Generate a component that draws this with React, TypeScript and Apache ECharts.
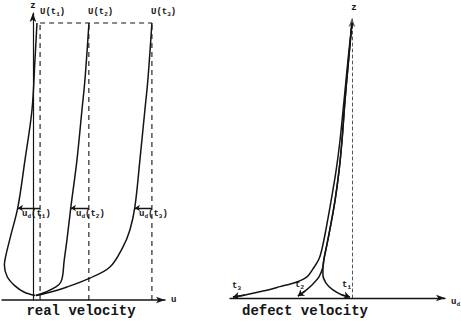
import React, { useEffect, useRef } from "react";
import * as echarts from "echarts";

// free-stream velocities U(t1), U(t2), U(t3) (real-velocity units)
const U_FREE = [0.06, 0.47, 1.0];
const Z_TOP = 1.0;
const UD_LEVEL = 0.332;
// u at the arrow level on each profile (end of u_d arrows)
const UD_END = [-0.126, 0.319, 0.857];

// real velocity profiles [u, z]
const realT1: number[][] = [
  [0.034, 1.0], [0.017, 0.866], [-0.008, 0.686], [-0.067, 0.505], [-0.126, 0.336],
  [-0.185, 0.235], [-0.227, 0.162], [-0.24, 0.126], [-0.215, 0.083], [-0.151, 0.051],
  [-0.076, 0.029], [0.02, 0.016],
];
const realT2: number[][] = [
  [0.471, 1.0], [0.437, 0.794], [0.412, 0.686], [0.37, 0.505], [0.319, 0.336],
  [0.286, 0.217], [0.261, 0.137], [0.252, 0.094], [0.235, 0.065], [0.193, 0.047],
  [0.109, 0.029], [0.025, 0.016],
];
const realT3: number[][] = [
  [1.0, 1.0], [0.966, 0.794], [0.941, 0.686], [0.899, 0.505], [0.857, 0.336],
  [0.815, 0.253], [0.756, 0.191], [0.647, 0.119], [0.479, 0.079], [0.286, 0.047],
  [0.118, 0.025], [0.025, 0.016],
];

// defect velocity profiles [u_d, z]
const defectT3: number[][] = [
  [0, 0.993], [-0.034, 0.856], [-0.067, 0.711], [-0.101, 0.567], [-0.134, 0.458],
  [-0.176, 0.35], [-0.218, 0.249], [-0.252, 0.177], [-0.277, 0.141], [-0.328, 0.105],
  [-0.378, 0.076], [-0.462, 0.058], [-0.605, 0.041], [-0.748, 0.025], [-0.899, 0.011],
  [-1.0, 0.004],
];
const defectT2: number[][] = [
  [0, 0.993], [-0.029, 0.856], [-0.059, 0.711], [-0.084, 0.567], [-0.109, 0.458],
  [-0.143, 0.35], [-0.185, 0.249], [-0.218, 0.177], [-0.235, 0.141], [-0.244, 0.112],
  [-0.277, 0.076], [-0.336, 0.047], [-0.395, 0.025], [-0.454, 0.007],
];
const defectT1: number[][] = [
  [0, 0.993], [-0.029, 0.856], [-0.059, 0.711], [-0.084, 0.567], [-0.109, 0.458],
  [-0.143, 0.35], [-0.185, 0.249], [-0.218, 0.177], [-0.235, 0.141], [-0.244, 0.112],
  [-0.244, 0.083], [-0.218, 0.054], [-0.16, 0.029], [-0.084, 0.011], [-0.017, 0.004],
];

const INK = "#141414";
const MONO = "'Liberation Mono'";

export default function App() {
  const ref = useRef<HTMLDivElement>(null);
  useEffect(() => {
    if (!ref.current) return;
    const chart = echarts.init(ref.current, undefined, { renderer: "svg" });

    const axisCommon = {
      type: "value" as const,
      axisTick: { show: false },
      axisLabel: { show: false },
      splitLine: { show: false },
    };

    const curve = (data: number[][], xi: number) => ({
      type: "line",
      xAxisIndex: xi,
      yAxisIndex: xi,
      data,
      smooth: 0.35,
      showSymbol: false,
      symbol: "none",
      clip: false,
      lineStyle: { color: INK, width: 1.5 },
    });

    const dashed = (data: number[][]) => ({
      type: "line",
      xAxisIndex: 0,
      yAxisIndex: 0,
      data,
      symbol: "none",
      clip: false,
      lineStyle: { color: INK, width: 1.1, type: [5, 4] },
    });

    const series: any[] = [
      curve(realT1, 0),
      curve(realT2, 0),
      curve(realT3, 0),
      ...U_FREE.map((u) => dashed([[u, 0], [u, Z_TOP]])),
      dashed([[U_FREE[0], Z_TOP], [U_FREE[2], Z_TOP]]),
      {
        type: "lines",
        coordinateSystem: "cartesian2d",
        xAxisIndex: 0,
        yAxisIndex: 0,
        symbol: ["none", "arrow"],
        symbolSize: 5,
        lineStyle: { color: INK, width: 1.3, opacity: 1 },
        data: U_FREE.map((u, i) => ({ coords: [[u, UD_LEVEL], [UD_END[i], UD_LEVEL]] })),
      },
      curve(defectT1, 1),
      curve(defectT2, 1),
      curve(defectT3, 1),
      {
        type: "lines",
        coordinateSystem: "cartesian2d",
        xAxisIndex: 1,
        yAxisIndex: 1,
        symbol: ["none", "arrow"],
        symbolSize: 6,
        lineStyle: { color: INK, width: 1.5, opacity: 1 },
        data: [defectT1, defectT2, defectT3].map((c) => ({
          coords: [c[c.length - 2], c[c.length - 1]],
        })),
      },
    ];

    const sub = { fontSize: 6, fontFamily: MONO, fontWeight: "bold", fill: INK, verticalAlign: "bottom", padding: [4, 0, 0, 0] };
    const base = { fontSize: 9, fontFamily: MONO, fontWeight: "bold", fill: INK };
    const txt = (text: string, x: number, y: number, align = "left", extra: any = {}) => ({
      type: "text",
      x,
      y,
      style: {
        text,
        align,
        verticalAlign: "middle",
        ...base,
        rich: { b: base, s: sub },
        ...extra,
      },
    });

    const graphic: any[] = [
      txt("z", 33, 6, "center"),
      txt("z", 354, 8, "center"),
      txt("u", 171, 300),
      txt("u{s|d}", 451, 302),
      txt("U(t{s|1})", 40, 12),
      txt("U(t{s|2})", 88, 12),
      txt("U(t{s|3})", 151, 12),
      txt("u{s|d}(t{s|1})", 22, 214),
      txt("u{s|d}(t{s|2})", 76, 214),
      txt("u{s|d}(t{s|3})", 139, 214),
      txt("t{s|3}", 232, 286),
      txt("t{s|2}", 295, 285),
      txt("t{s|1}", 342, 285),
      txt("real velocity", 81, 311, "center", { fontSize: 14 }),
      txt("defect velocity", 305, 311, "center", { fontSize: 14 }),
    ];

    chart.setOption({
      animation: false,
      backgroundColor: "#fff",
      grid: [
        { left: 2, top: 13, width: 163, height: 287 },
        { left: 230, top: 18, width: 215, height: 280 },
      ],
      xAxis: [
        {
          ...axisCommon, gridIndex: 0, min: -0.26, max: 1.11,
          axisLine: { show: true, onZero: true, symbol: ["none", "arrow"], symbolSize: [5, 9], lineStyle: { color: INK, width: 1.5 } },
        },
        {
          ...axisCommon, gridIndex: 1, min: -1.025, max: 0.782,
          axisLine: { show: true, onZero: true, symbol: ["none", "arrow"], symbolSize: [5, 9], lineStyle: { color: INK, width: 1.3 } },
        },
      ],
      yAxis: [
        {
          ...axisCommon, gridIndex: 0, min: 0, max: 1.036,
          axisLine: { show: true, onZero: true, symbol: ["none", "arrow"], symbolSize: [5, 9], lineStyle: { color: INK, width: 1.2 } },
        },
        {
          ...axisCommon, gridIndex: 1, min: 0, max: 1.011,
          axisLine: { show: true, onZero: true, symbol: ["none", "arrow"], symbolSize: [5, 9], lineStyle: { color: "#555", width: 1, type: [3, 3] } },
        },
      ],
      series,
      graphic,
    });
    return () => chart.dispose();
  }, []);

  return (
    <div
      ref={ref}
      style={{ position: "fixed", left: 0, top: 0, width: 461, height: 327, background: "#fff" }}
    />
  );
}
